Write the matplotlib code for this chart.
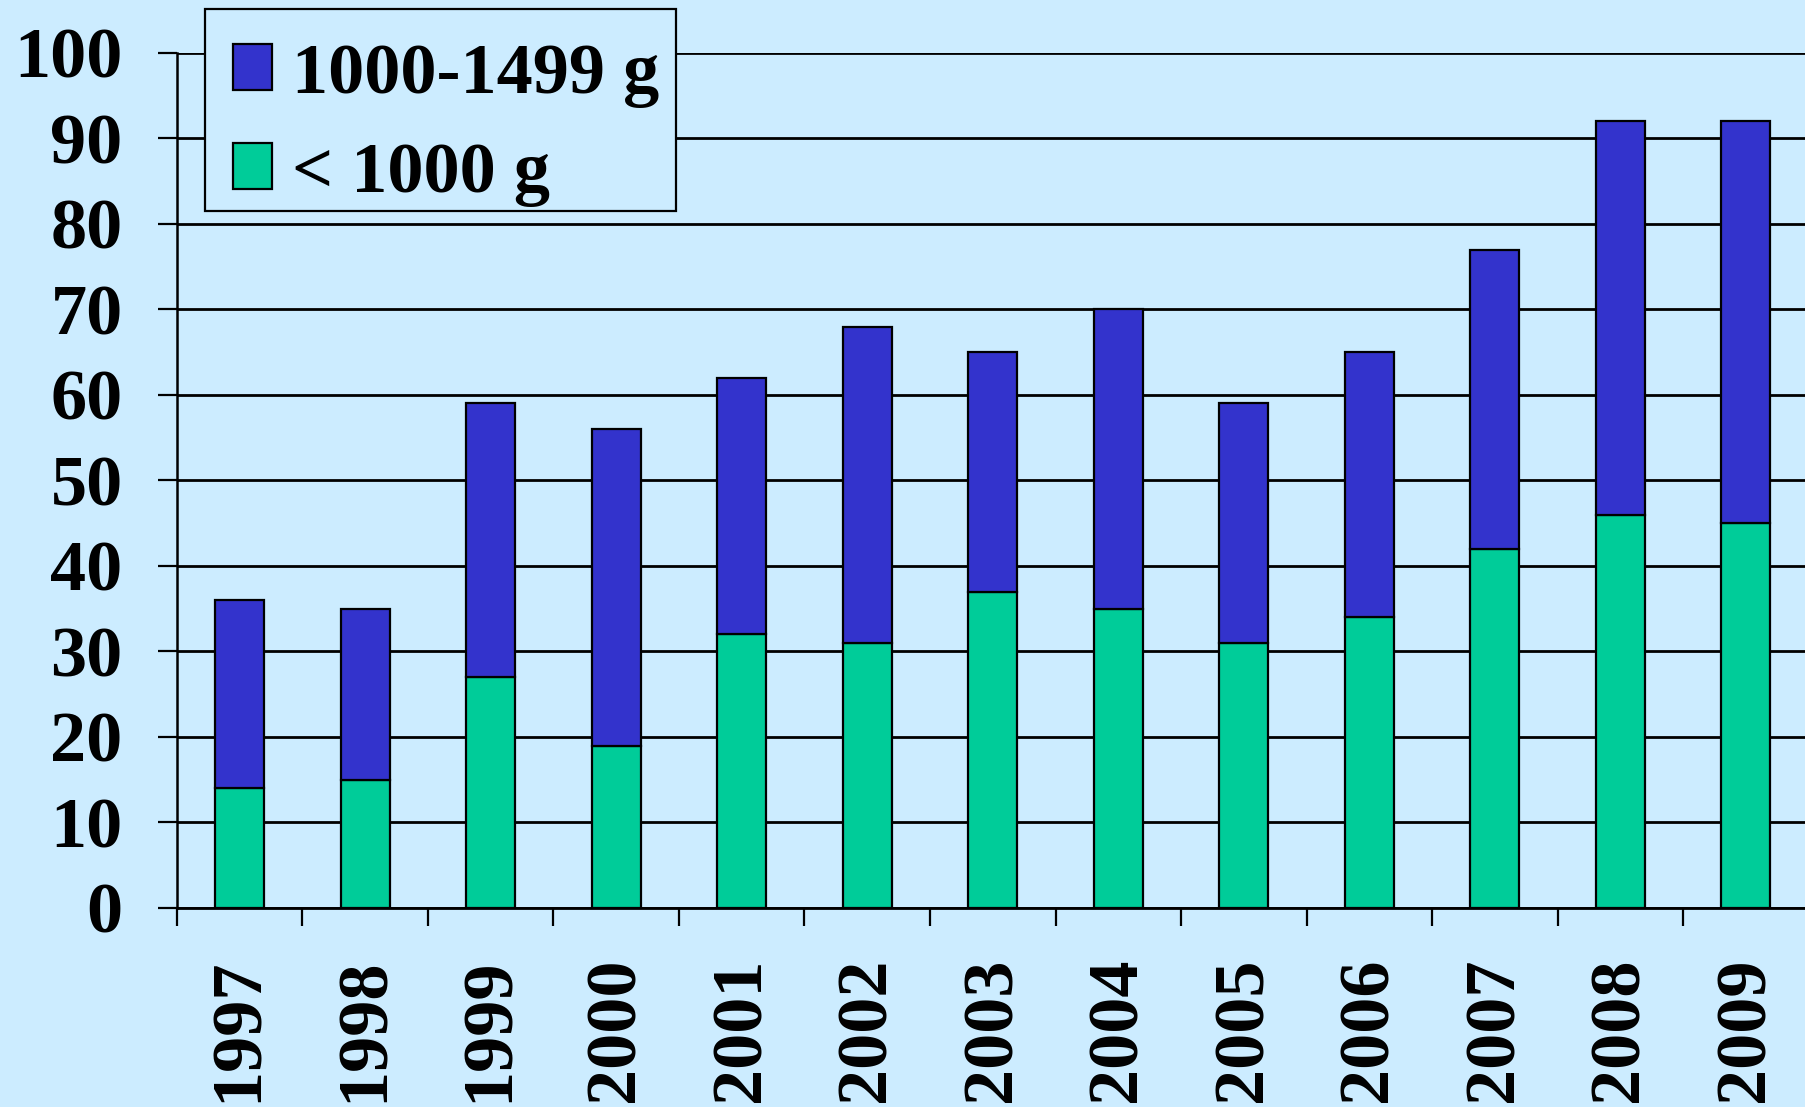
import matplotlib
matplotlib.use("Agg")
import matplotlib.pyplot as plt
from matplotlib.patches import Rectangle
import numpy as np

# Data
years = ["1997", "1998", "1999", "2000", "2001", "2002", "2003",
         "2004", "2005", "2006", "2007", "2008", "2009"]
under_1000 = [14, 15, 27, 19, 32, 31, 37, 35, 31, 34, 42, 46, 45]
from_1000_1499 = [22, 20, 32, 37, 30, 37, 28, 35, 28, 31, 35, 46, 47]
y_ticks = [0, 10, 20, 30, 40, 50, 60, 70, 80, 90, 100]

BG = "#CCECFF"
BLUE = "#3333CC"
GREEN = "#00CC99"
FS = 52

plt.rcParams["font.family"] = ["Liberation Serif", "DejaVu Serif"]
plt.rcParams["font.weight"] = "bold"

W, H = 1805, 1107
fig = plt.figure(figsize=(W / 100, H / 100), dpi=100, facecolor=BG)
ax = fig.add_axes([0.098, 0.1798, 0.904, 0.7724])
ax.set_facecolor(BG)

x = np.arange(len(years))
w = 0.39
b1 = ax.bar(x, under_1000, width=w, color=GREEN, edgecolor="black",
            linewidth=1.6, label="< 1000 g", zorder=3)
b2 = ax.bar(x, from_1000_1499, width=w, bottom=under_1000, color=BLUE,
            edgecolor="black", linewidth=1.6, label="1000-1499 g", zorder=3)

ax.set_xlim(-0.5, len(years) - 0.5)
ax.set_ylim(0, 100)
ax.set_yticks(y_ticks)
ax.set_yticklabels([str(v) for v in y_ticks], fontsize=FS, fontweight="bold")
ax.yaxis.grid(True, color="black", linewidth=2.0, zorder=0)
ax.set_axisbelow(True)
ax.tick_params(axis="y", length=14, width=1.6, pad=25, colors="black")

# Year labels at category centers, tick marks at the boundaries
ax.set_xticks(x)
ax.set_xticklabels(years, rotation=90, fontsize=FS, fontweight="bold")
ax.tick_params(axis="x", which="major", length=0, pad=36)
ax.set_xticks(np.arange(-0.5, len(years) + 0.5, 1), minor=True)
ax.tick_params(axis="x", which="minor", length=13, width=1.6, direction="out")

for s in ["top", "right"]:
    ax.spines[s].set_visible(False)
ax.spines["left"].set_linewidth(1.8)
ax.spines["bottom"].set_linewidth(2.0)

# Legend box drawn as its own rectangle, entries placed inside it
box_l, box_t, box_r, box_b = 205, 9, 676, 211
fig.patches.append(Rectangle((box_l / W, 1 - box_b / H),
                             (box_r - box_l) / W, (box_b - box_t) / H,
                             transform=fig.transFigure, facecolor=BG,
                             edgecolor="black", linewidth=1.6, zorder=5))
leg = fig.legend(handles=[b2, b1], labels=["1000-1499 g", "< 1000 g"],
                 loc="upper left", bbox_to_anchor=(211 / W, 1 - 21 / H),
                 bbox_transform=fig.transFigure, borderaxespad=0,
                 prop={"weight": "bold", "size": FS},
                 frameon=False, handlelength=0.55,
                 handleheight=0.6, handletextpad=0.27, labelspacing=0.47,
                 borderpad=0.3)
leg.set_zorder(6)

fig.savefig("out.png", dpi=100, facecolor=BG)
